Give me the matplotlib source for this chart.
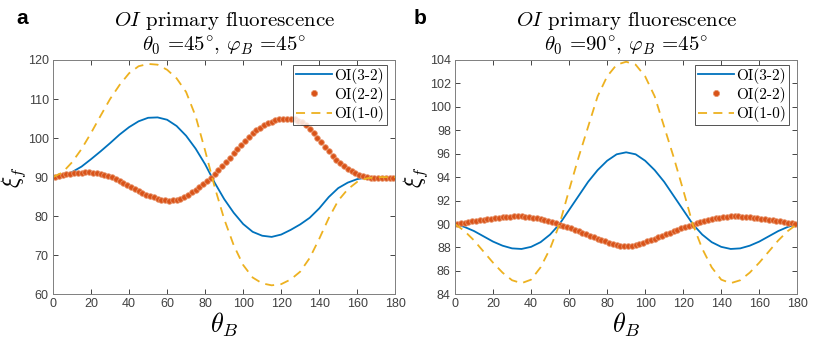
import numpy as np
import matplotlib
matplotlib.use("Agg")
import matplotlib.pyplot as plt

plt.rcParams['mathtext.fontset'] = 'cm'
plt.rcParams['font.family'] = ['Liberation Sans', 'DejaVu Sans']

# ---- data ----
theta_line = np.arange(0, 181, 5)
theta_dots = np.arange(1, 180, 2)

# panel a: theta0 = 45, phiB = 45
a_32 = [90.0, 90.3, 91.3, 92.7, 94.6, 96.6, 98.7, 100.9, 102.8, 104.3, 105.2, 105.3, 104.7,
        103.1, 100.6, 97.3, 93.3, 88.6, 84.4, 80.9, 78.0, 76.0, 75.0, 74.7, 75.3, 76.5,
        77.9, 79.6, 82.0, 84.9, 87.2, 88.6, 89.5, 89.9, 90.0, 90.0, 90.0]
a_10 = [90.0, 91.2, 93.8, 97.2, 101.3, 105.7, 110.0, 113.6, 116.6, 118.4, 119.0, 118.8, 117.5,
        115.3, 111.8, 105.6, 96.8, 87.5, 79.3, 72.6, 67.5, 64.3, 62.8, 62.3, 62.6, 63.8,
        65.8, 69.3, 74.2, 79.5, 84.0, 86.9, 88.8, 89.7, 90.0, 90.0, 90.0]
a_22 = [90.1, 90.3, 90.5, 90.7, 90.85, 91.0, 91.1, 91.15, 91.2, 91.2, 91.15, 91.0, 90.85,
        90.6, 90.3, 89.95, 89.5, 89.0, 88.5, 88.0, 87.5, 87.0, 86.5, 86.0, 85.55, 85.15,
        84.8, 84.5, 84.25, 84.1, 84.0, 84.05, 84.2, 84.5, 84.95, 85.5, 86.1, 86.8, 87.5,
        88.3, 89.1, 89.9, 90.8, 91.8, 92.8, 93.9, 95.0, 96.1, 97.2, 98.3, 99.3, 100.3,
        101.2, 102.0, 102.7, 103.3, 103.8, 104.2, 104.55, 104.8, 104.95, 105.0, 104.95,
        104.8, 104.5, 104.0, 103.3, 102.4, 101.3, 100.1, 98.9, 97.7, 96.6, 95.5, 94.5,
        93.6, 92.8, 92.1, 91.5, 91.0, 90.6, 90.3, 90.05, 89.9, 89.8, 89.8, 89.8, 89.8,
        89.85, 89.9]

# panel b: theta0 = 90, phiB = 45
b_32 = [90.0, 89.75, 89.4, 88.95, 88.5, 88.15, 87.92, 87.87, 88.05, 88.45, 89.1, 90.0, 91.2,
        92.4, 93.6, 94.6, 95.4, 95.95, 96.12, 95.95, 95.4, 94.6, 93.6, 92.4, 91.2, 90.0,
        89.1, 88.45, 88.05, 87.87, 87.92, 88.15, 88.5, 88.95, 89.4, 89.75, 90.0]
b_10 = [90.0, 89.4, 88.6, 87.65, 86.7, 85.85, 85.2, 84.95, 85.25, 86.3, 87.9, 90.0, 92.9,
        95.7, 98.3, 100.9, 102.6, 103.6, 103.85, 103.6, 102.6, 100.9, 98.3, 95.7, 92.9,
        90.0, 87.9, 86.3, 85.25, 84.95, 85.2, 85.85, 86.7, 87.65, 88.6, 89.4, 90.0]
b_22 = [90.02, 90.07, 90.12, 90.17, 90.22, 90.27, 90.32, 90.37, 90.42, 90.46, 90.5, 90.54,
        90.58, 90.61, 90.64, 90.66, 90.67, 90.66, 90.64, 90.6, 90.55, 90.49, 90.42, 90.34,
        90.25, 90.15, 90.05, 89.95, 89.84, 89.73, 89.62, 89.5, 89.38, 89.25, 89.12, 89.0,
        88.88, 88.76, 88.64, 88.52, 88.41, 88.31, 88.22, 88.14, 88.09,
        88.09, 88.14, 88.22, 88.31, 88.41, 88.52, 88.64, 88.76, 88.88, 89.0, 89.12, 89.25,
        89.38, 89.5, 89.62, 89.73, 89.84, 89.95, 90.05, 90.15, 90.25, 90.34, 90.42, 90.49,
        90.55, 90.6, 90.64, 90.66, 90.67, 90.66, 90.64, 90.61, 90.58, 90.54, 90.5, 90.46,
        90.42, 90.37, 90.32, 90.27, 90.22, 90.17, 90.12, 90.07, 90.02]

panels = [
    ('a', r'$\theta_0$ =45$^{\circ}$, $\varphi_B$ =45$^{\circ}$', a_32, a_22, a_10,
     (60, 120), np.arange(60, 121, 10)),
    ('b', r'$\theta_0$ =90$^{\circ}$, $\varphi_B$ =45$^{\circ}$', b_32, b_22, b_10,
     (84, 104), np.arange(84, 105, 2)),
]

blue = '#0072BD'
orange = '#D95319'
yellow = '#EDB120'
axcol = '#262626'

fig = plt.figure(figsize=(8.14, 3.53), dpi=100)
lefts = [53 / 814, 455 / 814]
width = 0.4205
bottom = 1 - 294.3 / 353
height = (294.3 - 60) / 353

for i, (tag, sub, y32, y22, y10, ylim, yticks) in enumerate(panels):
    ax = fig.add_axes([lefts[i], bottom, width, height])
    l1, = ax.plot(theta_line, y32, color=blue, lw=1.3)
    l2, = ax.plot(theta_dots, y22, ls='none', marker='o', ms=4.0, color=orange,
                  mec='#e8956c', mew=0.6)
    l3, = ax.plot(theta_line, y10, color=yellow, lw=1.3, ls=(0, (5, 3.5)))

    ax.set_xlim(0, 180)
    ax.set_ylim(*ylim)
    ax.set_xticks(np.arange(0, 181, 20))
    ax.set_yticks(yticks)
    ax.tick_params(direction='in', top=True, right=True, length=3.5, width=0.6,
                   labelsize=9, colors=axcol, labelcolor='#404040', pad=3)
    for s in ax.spines.values():
        s.set_color('#7f7f7f')
        s.set_linewidth(0.7)

    ax.set_xlabel(r'$\theta_B$', fontsize=19, labelpad=0)
    ax.set_ylabel(r'$\xi_f$', fontsize=17, labelpad=0)
    ax.set_title(r'$OI$ primary fluorescence' + '\n' + sub, fontsize=15,
                 family='cmr10', linespacing=1.15, pad=6)

    leg = ax.legend([l1, l2, l3], ['OI(3-2)', 'OI(2-2)', 'OI(1-0)'],
                    loc='upper right', bbox_to_anchor=(0.975, 0.98),
                    prop={'family': 'cmr10', 'size': 11}, fancybox=False,
                    handlelength=2.3, handletextpad=0.15, borderpad=0.2,
                    labelspacing=0.2, borderaxespad=0, markerscale=1.1)
    leg.get_frame().set_edgecolor('#262626')
    leg.get_frame().set_linewidth(0.7)

    fig.text([22 / 814, 420 / 814][i], 1 - 18 / 353, tag, fontsize=15,
             fontweight='bold', ha='center', va='center')

fig.savefig('out.png', dpi=100)
